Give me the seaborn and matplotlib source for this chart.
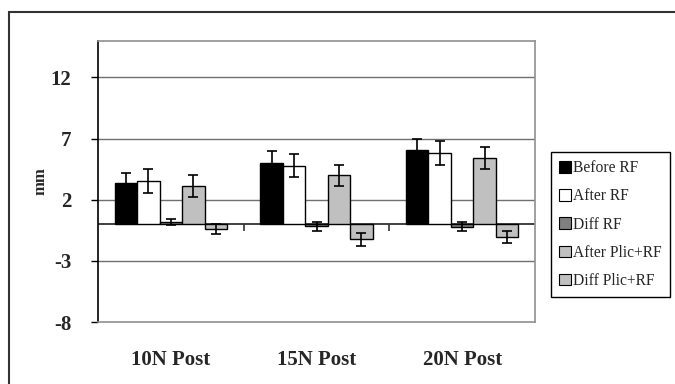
import pandas as pd
import numpy as np
import matplotlib
matplotlib.use('Agg')
import matplotlib.pyplot as plt
import seaborn as sns
from matplotlib.patches import Rectangle

sns.set_style("white")
plt.rcParams['font.family'] = ['Liberation Serif', 'DejaVu Serif']
plt.rcParams['axes.unicode_minus'] = False

categories = ['10N Post', '15N Post', '20N Post']
series = ['Before RF', 'After RF', 'Diff RF', 'After Plic+RF', 'Diff Plic+RF']
before_rf = [3.40, 5.00, 6.09]
after_rf = [3.53, 4.78, 5.84]
diff_rf = [0.15, -0.17, -0.20]
after_plic = [3.10, 3.99, 5.40]
diff_plic = [-0.41, -1.25, -1.08]
err_before = [0.78, 0.98, 0.90]
err_after = [0.98, 0.94, 0.99]
err_diff_rf = [0.24, 0.36, 0.40]
err_after_plic = [0.88, 0.88, 0.91]
err_diff_plic = [0.43, 0.53, 0.50]
colors = ['#000000', '#FFFFFF', '#808080', '#C0C0C0', '#C0C0C0']
y_ticks = [-8, -3, 2, 7, 12]

values = [before_rf, after_rf, diff_rf, after_plic, diff_plic]
errors = [err_before, err_after, err_diff_rf, err_after_plic, err_diff_plic]
rows = []
for s, vals, errs in zip(series, values, errors):
    for c, v, e in zip(categories, vals, errs):
        rows.append({'Category': c, 'Series': s, 'Value': v, 'Err': e})
df = pd.DataFrame(rows)

fig = plt.figure(figsize=(6.75, 3.84), dpi=100)
ax = fig.add_axes([98 / 675, 1 - 322 / 384, 437 / 675, 281.3 / 384])

sns.barplot(data=df, x='Category', y='Value', hue='Series', order=categories, hue_order=series,
            palette=colors, width=0.772, gap=0, edgecolor='black', linewidth=1.0,
            errorbar=None, legend=False, ax=ax, zorder=3)

# error bars at the centre of each bar, matched by category and value
for p in ax.patches:
    xc = p.get_x() + p.get_width() / 2
    ci = int(round(xc))
    match = df[(df['Category'] == categories[ci]) & (np.isclose(df['Value'], p.get_height()))]
    if len(match) == 0:
        continue
    r = match.iloc[0]
    ax.errorbar(xc, r['Value'], yerr=r['Err'], fmt='none', ecolor='black',
                elinewidth=1.2, capsize=3.8, capthick=1.2, zorder=4)

ax.set_ylim(-8, 15)
ax.set_xlim(-0.5, 2.5)
ax.set_yticks(y_ticks)
for t in [12, 7, 2, -3]:
    ax.axhline(t, color='#707070', linewidth=1.0, zorder=1)
ax.axhline(0, color='#333333', linewidth=1.3, zorder=2)
ax.vlines([0.5, 1.5], -0.55, 0, color='#333333', linewidth=1.2, zorder=2)

for side in ['top', 'right', 'bottom']:
    ax.spines[side].set_color('#909090')
    ax.spines[side].set_linewidth(1.2)
ax.spines['left'].set_color('black')
ax.spines['left'].set_linewidth(1.2)

ax.tick_params(axis='y', direction='out', length=5, width=1, color='black', left=True,
               labelsize=15, pad=14)
ax.tick_params(axis='x', length=0, labelsize=15, pad=20)
for lbl in ax.get_yticklabels() + ax.get_xticklabels():
    lbl.set_fontweight('bold')
ax.set_xlabel('')
ax.set_ylabel('mm', fontsize=12, fontweight='bold', labelpad=2)

handles = [Rectangle((0, 0), 1, 1, facecolor=c, edgecolor='black', linewidth=0.8) for c in colors]
leg = fig.legend(handles, series, loc='upper left', bbox_to_anchor=(550.7 / 675, 1 - 151.7 / 384),
                 frameon=True, fancybox=False, framealpha=1, edgecolor='black', fontsize=11.2,
                 handlelength=0.75, handleheight=0.75, handletextpad=0.15, labelspacing=0.78,
                 borderpad=0.55, borderaxespad=0)
leg.get_frame().set_linewidth(1.0)

fig.patches.append(Rectangle((9 / 675, -0.1), 1.2, 1 - 12 / 384 + 0.1, transform=fig.transFigure,
                             fill=False, edgecolor='#333333', linewidth=1.5))

plt.savefig('out.png', dpi=100)
plt.close()
